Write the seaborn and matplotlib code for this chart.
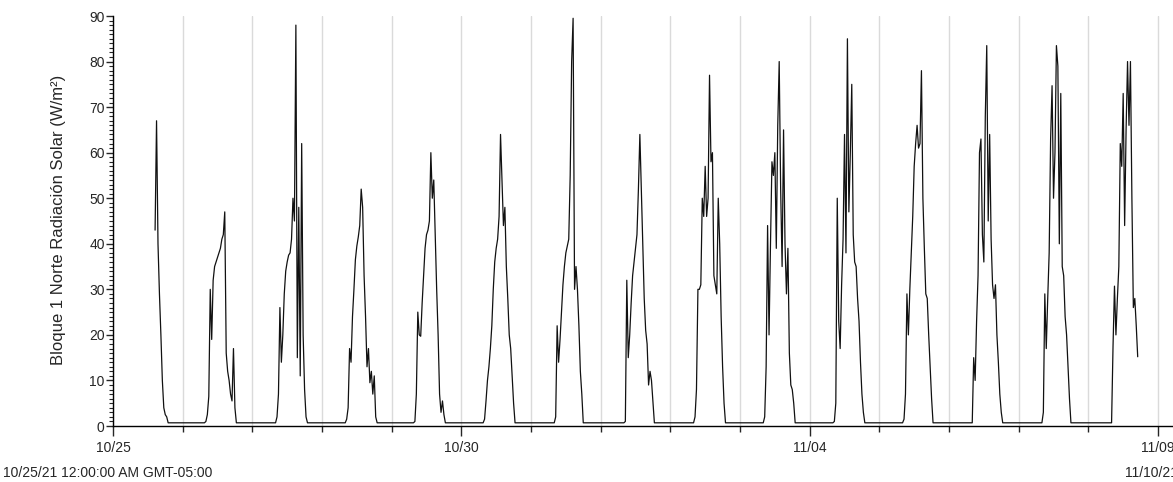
import matplotlib
matplotlib.use("Agg")
import matplotlib.pyplot as plt
import matplotlib.dates as mdates
from matplotlib.ticker import MultipleLocator, FixedLocator
import seaborn as sns
import pandas as pd

# solar radiation readings, 30 min steps (W/m2)
# 10/25 starts at 14:30, the other days from 07:00, 11/08 stops at 17:00
d1025 = [43, 67, 40, 29, 20, 10, 4, 2.5, 2, 0.7]
d1026 = [0.7, 0.7, 1.0, 2.5, 6.5, 30, 19, 32, 35, 36, 37, 38, 39, 41, 42, 47, 16, 12, 10, 7, 5.5, 17, 4, 0.7, 0.7]
d1027 = [0.7, 0.7, 0.7, 2, 7, 26, 14, 20, 29, 34, 36, 37.5, 38, 41, 50, 45, 88, 15, 48, 11, 62, 20, 8, 2, 0.7]
d1028 = [0.7, 0.7, 0.7, 1.5, 4, 17, 14, 24, 30, 36.5, 39.5, 41.5, 44, 52, 48, 33, 24, 13, 17, 9.5, 12, 7, 11, 2, 0.7]
d1029 = [0.7, 0.7, 1, 7, 25, 20, 19.7, 27, 33, 39, 42, 43, 45, 60, 50, 54, 42, 30, 20, 7, 3, 5.5, 2.5, 0.7, 0.7]
d1030 = [0.7, 0.7, 1.5, 5.5, 10, 13, 17, 22, 30, 36, 39, 41, 46, 64, 54, 44, 48, 35, 28, 20, 17, 11, 5, 0.7, 0.7]
d1031 = [0.7, 0.7, 0.7, 2, 22, 14, 19, 25, 31, 35, 38, 39.5, 41, 55, 80, 89.5, 30, 35, 30, 22, 12, 7, 0.7, 0.7, 0.7]
d1101 = [0.7, 0.7, 0.7, 1, 32, 15, 20, 27, 33, 36, 39, 42, 52, 64, 52, 40, 28, 21, 18, 9, 12, 10, 5.5, 0.7, 0.7]
d1102 = [0.7, 0.7, 0.7, 2, 8, 30, 30, 31, 50, 46, 57, 46, 50, 77, 58, 60, 33, 31, 29, 50, 40, 24, 13, 5, 0.7]
d1103 = [0.7, 0.7, 0.7, 2, 13, 44, 20, 40, 58, 55, 60, 39, 66, 80, 52, 35, 65, 40, 29, 39, 16, 9, 8, 5, 0.7]
d1104 = [0.7, 0.7, 0.7, 1, 5, 50, 23, 17, 31, 41, 64, 38, 85, 47, 60, 75, 42, 36, 35, 28, 23, 14, 7, 3, 0.7]
d1105 = [0.7, 0.7, 0.7, 1.5, 7, 29, 20, 30, 38, 46, 57, 62, 66, 61, 62, 78, 50, 39, 29, 28, 20, 13, 6, 0.7, 0.7]
d1106 = [0.7, 0.7, 0.7, 15, 10, 23, 33, 60, 63, 42, 36, 68, 83.5, 45, 64, 41, 31, 28, 31, 20, 14, 7, 3, 0.7, 0.7]
d1107 = [0.7, 0.7, 0.7, 3, 29, 17, 28, 38, 63, 74.7, 50, 60, 83.5, 79, 40, 73, 35, 33, 24, 20, 13, 6, 0.7, 0.7, 0.7]
d1108 = [0.7, 0.7, 0.7, 17.5, 30.7, 20, 28, 35, 62, 57, 73, 44, 65, 80, 66, 80, 50, 26, 28, 22, 15.2]

day_starts = ["2021-10-25 14:30", "2021-10-26 07:00", "2021-10-27 07:00", "2021-10-28 07:00",
              "2021-10-29 07:00", "2021-10-30 07:00", "2021-10-31 07:00", "2021-11-01 07:00",
              "2021-11-02 07:00", "2021-11-03 07:00", "2021-11-04 07:00", "2021-11-05 07:00",
              "2021-11-06 07:00", "2021-11-07 07:00", "2021-11-08 07:00"]
days = [d1025, d1026, d1027, d1028, d1029, d1030, d1031, d1101, d1102, d1103,
        d1104, d1105, d1106, d1107, d1108]
major_ticks = ["2021-10-25", "2021-10-30", "2021-11-04", "2021-11-09"]
ylabel = "Bloque 1 Norte Radiación Solar (W/m²)"
start_text = "10/25/21 12:00:00 AM GMT-05:00"
end_text = "11/10/21 12:00:00 AM GMT-05:00"

parts = []
for s, vals in zip(day_starts, days):
    t = pd.date_range(s, periods=len(vals), freq="30min")
    parts.append(pd.DataFrame({"time": t, "value": vals}))
df = pd.concat(parts, ignore_index=True)

sns.set_style("ticks")
plt.rcParams["font.family"] = ["Liberation Sans", "DejaVu Sans"]

fig = plt.figure(figsize=(11.73, 4.82), dpi=100)
ax = fig.add_axes([113 / 1173, 56 / 482, 1 - 113 / 1173, 410 / 482])

sns.lineplot(data=df, x="time", y="value", ax=ax, color="#111111", linewidth=0.9)

t0 = pd.Timestamp("2021-10-25")
ax.set_xlim(t0, t0 + pd.Timedelta(days=15.215))
ax.set_ylim(0, 90)

ax.xaxis.set_major_locator(FixedLocator(mdates.date2num(pd.to_datetime(major_ticks))))
ax.xaxis.set_major_formatter(mdates.DateFormatter("%m/%d"))
ax.xaxis.set_minor_locator(mdates.DayLocator())
ax.yaxis.set_major_locator(MultipleLocator(10))
ax.yaxis.set_minor_locator(MultipleLocator(1))

ax.grid(which="both", axis="x", color="#dadada", linewidth=1)
ax.set_axisbelow(True)

ax.tick_params(axis="x", which="major", length=7, width=1, labelsize=10, pad=4)
ax.tick_params(axis="x", which="minor", length=4, width=1)
ax.tick_params(axis="y", which="major", length=5, width=1, labelsize=10, pad=1)
ax.tick_params(axis="y", which="minor", length=3, width=0.8)

for side in ["top", "right"]:
    ax.spines[side].set_visible(False)
for side in ["left", "bottom"]:
    ax.spines[side].set_color("black")
    ax.spines[side].set_linewidth(1)

ax.set_xlabel("")
ax.set_ylabel(ylabel, fontsize=12)
ax.yaxis.set_label_coords(-0.044, 0.502)

fig.text(3 / 1173, 1 - 477 / 482, start_text, fontsize=10, ha="left", va="baseline")
fig.text(1125 / 1173, 1 - 477 / 482, end_text, fontsize=10, ha="left", va="baseline")

fig.savefig("out.png", dpi=100)
